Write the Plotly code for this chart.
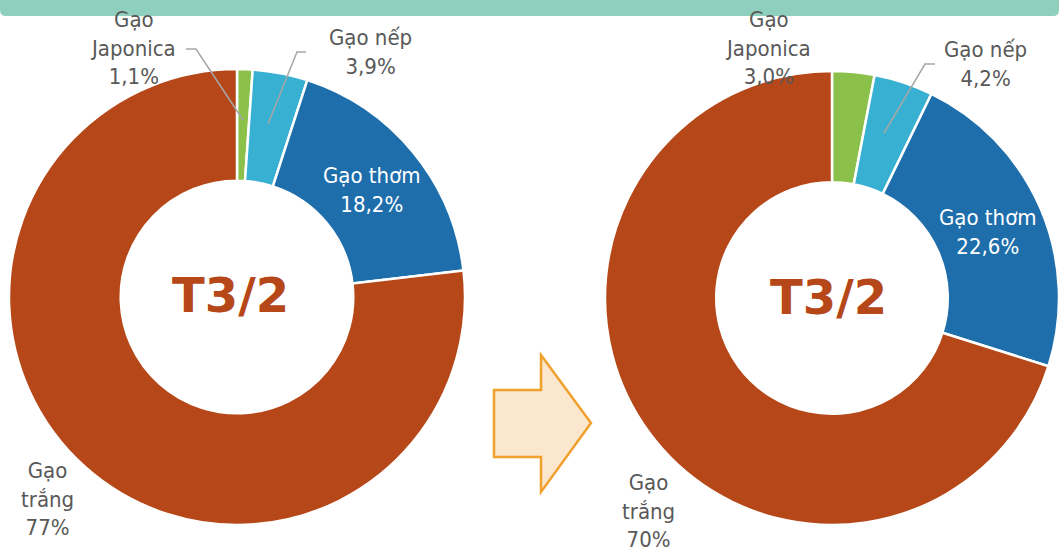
"""Cơ cấu xuất khẩu gạo — hai biểu đồ donut T3/2."""

import plotly.graph_objects as go

W, H = 1059, 552

labels = ["Gạo Japonica", "Gạo nếp", "Gạo thơm", "Gạo trắng"]
colors = ["#8BC14A", "#38B0D2", "#1E6EAB", "#B64718"]
share_left = [1.1, 3.9, 18.2, 77]
share_right = [3.0, 4.2, 22.6, 70]
text_left = ["Gạo<br>Japonica<br>1,1%", "Gạo nếp<br>3,9%", "Gạo thơm<br>18,2%", "Gạo<br>trắng<br>77%"]
text_right = ["Gạo<br>Japonica<br>3,0%", "Gạo nếp<br>4,2%", "Gạo thơm<br>22,6%", "Gạo<br>trắng<br>70%"]
center_left = "T3/2"
center_right = "T3/2"

FONT = "DejaVu Sans Condensed, Liberation Sans Narrow, sans-serif"
GREY = "#595959"


def px(x):
    return x / W


def py(y):
    return 1 - y / H


def domain(cx, cy, r):
    return dict(x=[px(cx - r), px(cx + r)], y=[py(cy + r), py(cy - r)])


def donut(values, dom):
    return go.Pie(
        labels=labels,
        values=values,
        sort=False,
        direction="clockwise",
        rotation=0,
        hole=0.51,
        marker=dict(colors=colors, line=dict(color="white", width=2.5)),
        textinfo="none",
        hoverinfo="label+percent",
        showlegend=False,
        domain=dom,
    )


fig = go.Figure()
fig.add_trace(donut(share_left, domain(237, 297, 228)))
fig.add_trace(donut(share_right, domain(832, 298, 227)))

# nhãn: (x, y, màu) theo pixel
pos_left = [(133, 48, GREY), (370, 52, GREY), (372, 190, "white"), (47, 499, GREY)]
pos_right = [(768, 48, GREY), (985, 64, GREY), (988, 232, "white"), (648, 511, GREY)]

annotations = []
for texts, pos in ((text_left, pos_left), (text_right, pos_right)):
    for t, (x, y, c) in zip(texts, pos):
        annotations.append(dict(
            x=px(x), y=py(y), xref="paper", yref="paper", text=t,
            xanchor="center", yanchor="middle",
            showarrow=False, align="center",
            font=dict(family=FONT, size=22, color=c),
        ))
for t, (x, y) in ((center_left, (230, 295)), (center_right, (828, 297))):
    annotations.append(dict(
        x=px(x), y=py(y), xref="paper", yref="paper", text=f"<b>{t}</b>",
        xanchor="center", yanchor="middle",
        showarrow=False, font=dict(family="DejaVu Sans, sans-serif", size=48, color="#B64718"),
    ))


def path(points, close=True):
    s = "M " + " L ".join(f"{px(x)},{py(y)}" for x, y in points)
    return s + (" Z" if close else "")


shapes = [
    # thanh tiêu đề
    dict(type="path", xref="paper", yref="paper",
         path=f"M 0,1 L 1,1 L 1,{py(10)} Q 1,{py(16)} {px(1053)},{py(16)} "
              f"L {px(6)},{py(16)} Q 0,{py(16)} 0,{py(10)} Z",
         fillcolor="#8FCFBD", line=dict(width=0), layer="above"),
    # mũi tên
    dict(type="path", xref="paper", yref="paper",
         path=path([(494, 390), (541, 390), (541, 355), (591, 423),
                    (541, 492), (541, 457), (494, 457)]),
         fillcolor="#FBE6CE", line=dict(color="#F0A02C", width=2.5)),
]
leaders = [
    [(186, 49), (196, 49), (243, 120)],
    [(306, 52), (297, 52), (268, 124)],
    [(935, 64), (925, 64), (884, 133)],
]
for pts in leaders:
    shapes.append(dict(type="path", xref="paper", yref="paper", path=path(pts, close=False),
                       line=dict(color="#A6A6A6", width=1.5), layer="above"))

fig.update_layout(
    width=W, height=H,
    margin=dict(l=0, r=0, t=0, b=0),
    paper_bgcolor="white",
    plot_bgcolor="white",
    annotations=annotations,
    shapes=shapes,
)

fig.write_html("out.html", config={"displayModeBar": False},
               post_script="document.body.style.margin='0';")
